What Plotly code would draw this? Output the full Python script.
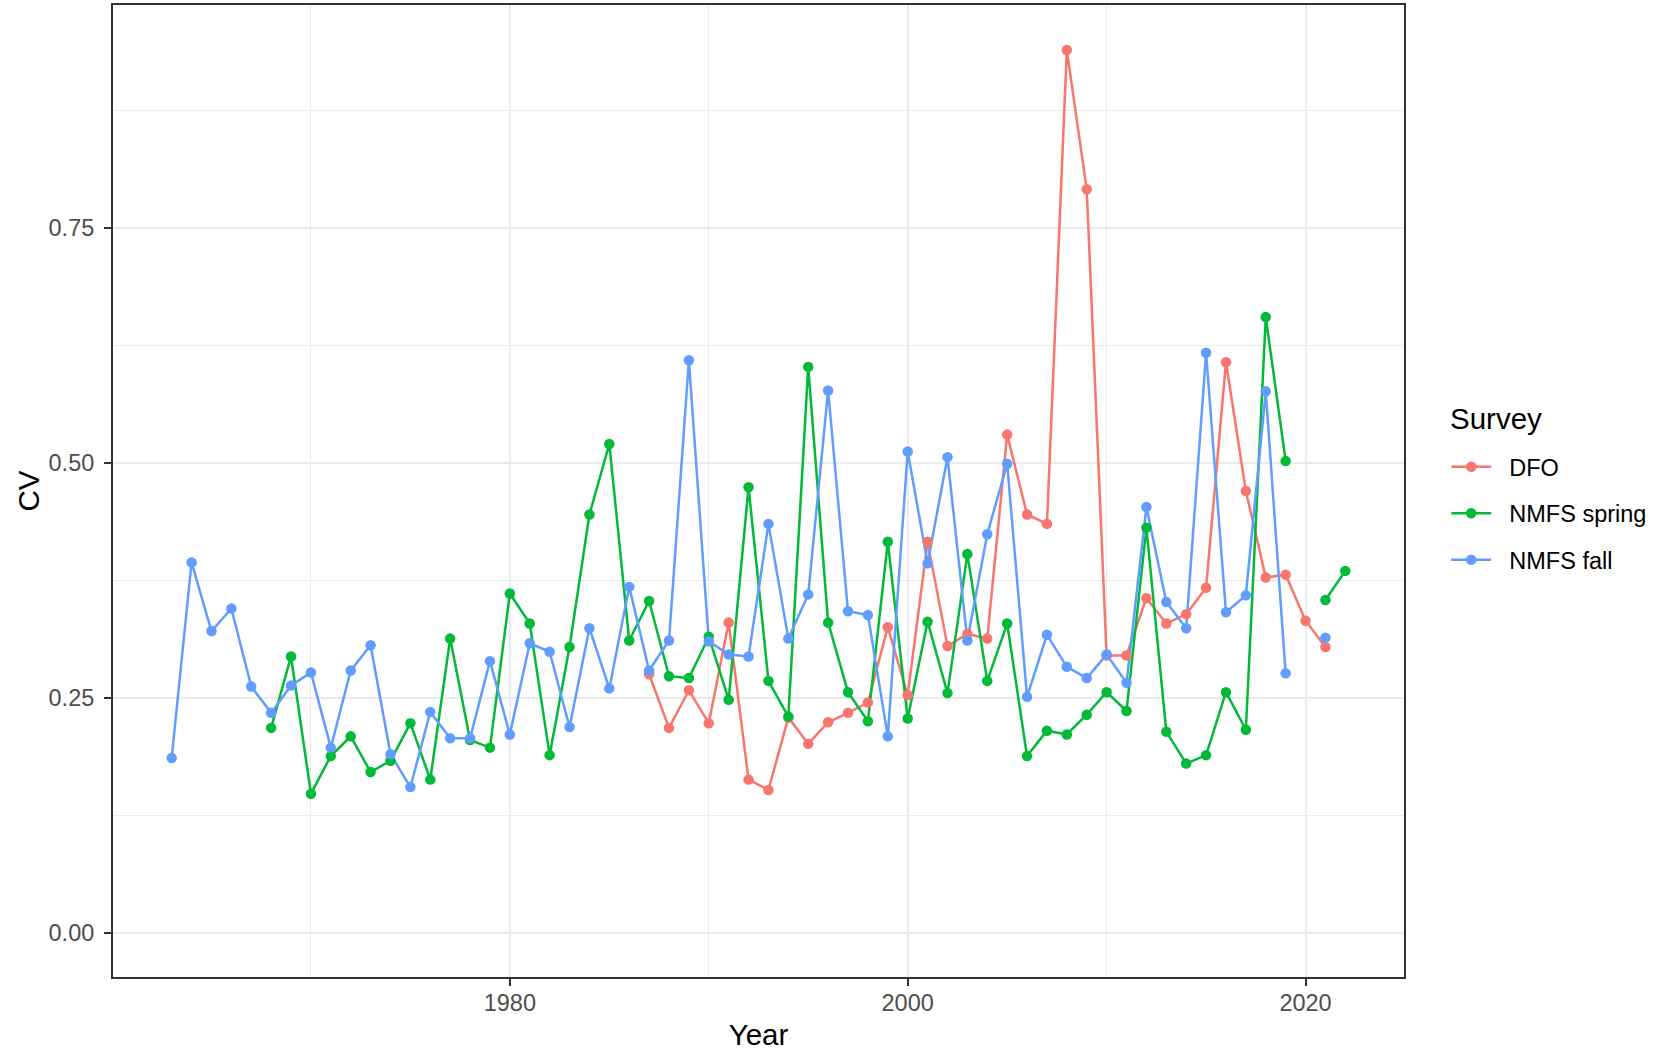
import plotly.graph_objects as go

years = list(range(1963, 2023))

# NMFS fall CV by year (1963-2022), None = no survey value
fall_cv = [0.186, 0.394, 0.321, 0.345, 0.262, 0.234, 0.263, 0.277, 0.197, 0.279,
           0.306, 0.190, 0.155, 0.235, 0.207, 0.207, 0.289, 0.211, 0.308, 0.299,
           0.219, 0.324, 0.260, 0.368, 0.279, 0.311, 0.609, 0.310, 0.296, 0.294,
           0.435, 0.313, 0.360, 0.577, 0.342, 0.338, 0.209, 0.512, 0.393, 0.506,
           0.311, 0.424, 0.499, 0.251, 0.317, 0.283, 0.271, 0.296, 0.266, 0.453,
           0.352, 0.324, 0.617, 0.341, 0.359, 0.576, 0.276, None, 0.314, None]

# NMFS spring CV by year (1963-2022)
spring_cv = [None, None, None, None, None, 0.218, 0.294, 0.148, 0.188, 0.209,
             0.171, 0.183, 0.223, 0.163, 0.313, 0.205, 0.197, 0.361, 0.329, 0.189,
             0.304, 0.445, 0.520, 0.311, 0.353, 0.273, 0.271, 0.315, 0.248, 0.474,
             0.268, 0.230, 0.602, 0.330, 0.256, 0.225, 0.416, 0.228, 0.331, 0.255,
             0.403, 0.268, 0.329, 0.188, 0.215, 0.211, 0.232, 0.256, 0.236, 0.431,
             0.214, 0.180, 0.189, 0.256, 0.216, 0.655, 0.502, None, 0.354, 0.385]

# DFO CV by year (1963-2022)
dfo_cv = [None] * 24 + [
             0.275, 0.218, 0.258, 0.223, 0.330, 0.163, 0.152, 0.229, 0.201, 0.224,
             0.234, 0.245, 0.325, 0.253, 0.416, 0.305, 0.318, 0.313, 0.530, 0.445,
             0.435, 0.939, 0.791, 0.295, 0.295, 0.356, 0.329, 0.339, 0.367, 0.607,
             0.470, 0.378, 0.381, 0.332, 0.304, None]

series_names = ["DFO", "NMFS spring", "NMFS fall"]
series_values = [dfo_cv, spring_cv, fall_cv]
series_colors = ["#F8766D", "#00BA38", "#619CFF"]

FONT = "Liberation Sans, Arial, sans-serif"
LW = 2.5
MS = 10.5

fig = go.Figure()

# lines first (as in ggplot geom_line layer)
for name, vals, col in zip(series_names, series_values, series_colors):
    fig.add_trace(go.Scatter(x=years, y=vals, mode="lines", name=name,
                             line=dict(color=col, width=LW), connectgaps=False,
                             showlegend=False, hoverinfo="skip"))
# then points on top
for name, vals, col in zip(series_names, series_values, series_colors):
    fig.add_trace(go.Scatter(x=years, y=vals, mode="markers", name=name,
                             marker=dict(color=col, size=MS), showlegend=False))
# legend entries
for name, col in zip(series_names, series_colors):
    fig.add_trace(go.Scatter(x=[None], y=[None], mode="lines+markers",
                             name="\u00a0\u00a0" + name,
                             line=dict(color=col, width=LW),
                             marker=dict(color=col, size=MS),
                             legendgroup=name, showlegend=True))

grid = "#EBEBEB"
border = "#333333"

fig.update_layout(
    width=1654, height=1051,
    paper_bgcolor="white", plot_bgcolor="white",
    margin=dict(l=113, r=250, t=5, b=74, autoexpand=False),
    font=dict(family=FONT, color="black"),
    legend=dict(
        font=dict(size=23.5, color="black", family=FONT),
        x=1.0327, xanchor="left", y=0.5474, yanchor="top",
        tracegroupgap=13, itemwidth=40,
        bgcolor="rgba(0,0,0,0)",
    ),
    annotations=[dict(
        text="Survey", xref="paper", yref="paper",
        x=1.0341, y=0.5751, xanchor="left", yanchor="middle",
        showarrow=False, font=dict(size=29.5, color="black", family=FONT),
    )],
    xaxis=dict(
        range=[1960.05, 2024.95],
        tick0=1980, dtick=20,
        showgrid=True, gridcolor=grid, gridwidth=2,
        minor=dict(dtick=10, tick0=1970, showgrid=True, gridcolor=grid, gridwidth=1, ticks=""),
        showline=True, mirror=True, linecolor=border, linewidth=2,
        ticks="outside", ticklen=7, tickwidth=1.5, tickcolor=border,
        ticklabelstandoff=-3,
        tickfont=dict(size=23.5, color="#4D4D4D", family=FONT),
        title=dict(text="Year", font=dict(size=29.5, color="black", family=FONT), standoff=12),
        zeroline=False, automargin=False,
    ),
    yaxis=dict(
        range=[-0.047, 0.987],
        tick0=0, dtick=0.25, tickformat=".2f",
        showgrid=True, gridcolor=grid, gridwidth=2,
        minor=dict(dtick=0.125, tick0=0, showgrid=True, gridcolor=grid, gridwidth=1, ticks=""),
        showline=True, mirror=True, linecolor=border, linewidth=2,
        ticks="outside", ticklen=7, tickwidth=1.5, tickcolor=border,
        ticklabelstandoff=5,
        tickfont=dict(size=23.5, color="#4D4D4D", family=FONT),
        title=dict(text="CV", font=dict(size=29.5, color="black", family=FONT), standoff=0),
        zeroline=False, automargin=False,
    ),
)

fig.write_html("out.html", config={"displayModeBar": False},
               post_script="document.body.style.margin='0px';")
